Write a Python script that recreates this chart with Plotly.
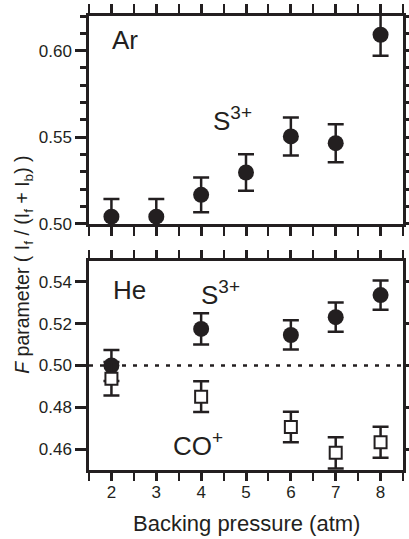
import plotly.graph_objects as go

INK = "#231f20"
FONT = "Liberation Sans, Arial, Helvetica, sans-serif"

# ---- data ----
pressure_ar = [2, 3, 4, 5, 6, 7, 8]
ar_s3 = [0.5042, 0.5042, 0.5168, 0.5297, 0.5505, 0.5466, 0.6092]
ar_s3_err = [0.0102, 0.0102, 0.0100, 0.0105, 0.0110, 0.0110, 0.0121]

pressure_he = [2, 4, 6, 7, 8]
he_s3 = [0.5000, 0.5175, 0.5146, 0.5231, 0.5337]
he_s3_err = [0.0074, 0.0075, 0.0070, 0.0070, 0.0070]
he_co = [0.4937, 0.4851, 0.4706, 0.4582, 0.4633]
he_co_err = [0.0080, 0.0074, 0.0073, 0.0075, 0.0074]

x_range = [1.5, 8.5]
ar_range = [0.50, 0.62]
he_range = [0.45, 0.55]
reference_level = 0.50

fig = go.Figure()

eb = dict(type="data", thickness=2.5, width=8, color=INK)

fig.add_trace(go.Scatter(
    x=pressure_ar, y=ar_s3, mode="markers", xaxis="x", yaxis="y",
    marker=dict(symbol="circle", size=16, color=INK, line=dict(width=0)),
    error_y=dict(array=ar_s3_err, **eb), showlegend=False, cliponaxis=False))

fig.add_trace(go.Scatter(
    x=pressure_he, y=he_s3, mode="markers", xaxis="x2", yaxis="y2",
    marker=dict(symbol="circle", size=16, color=INK, line=dict(width=0)),
    error_y=dict(array=he_s3_err, **eb), showlegend=False, cliponaxis=False))

fig.add_trace(go.Scatter(
    x=pressure_he, y=he_co, mode="markers", xaxis="x2", yaxis="y2",
    marker=dict(symbol="square", size=12, color="white", line=dict(width=2, color=INK)),
    error_y=dict(array=he_co_err, **eb), showlegend=False, cliponaxis=False))

# dummy traces so the right-hand tick axes exist
fig.add_trace(go.Scatter(x=[], y=[], xaxis="x", yaxis="y3", showlegend=False, hoverinfo="skip"))
fig.add_trace(go.Scatter(x=[], y=[], xaxis="x2", yaxis="y4", showlegend=False, hoverinfo="skip"))

tickfont = dict(family=FONT, size=17, color=INK)

xcommon = dict(range=x_range, tick0=2, dtick=1, ticks="outside", tickwidth=2.5,
               tickcolor=INK, showline=True, linewidth=2.5, linecolor=INK, mirror="allticks",
               showgrid=False, zeroline=False,
               minor=dict(tick0=2.5, dtick=1, ticks="outside", ticklen=3, tickwidth=2, tickcolor=INK))

top_dom = [0.5419, 1.0]
bot_dom = [0.0, 0.4604]

fig.update_layout(
    width=409, height=539,
    margin=dict(l=89, r=6, t=16, b=69, autoexpand=False),
    paper_bgcolor="white", plot_bgcolor="white",
    font=dict(family=FONT, color=INK),
    xaxis=dict(domain=[0, 1], anchor="y", showticklabels=False, ticklen=9, **xcommon),
    xaxis2=dict(domain=[0, 1], anchor="y2", showticklabels=True, tickfont=tickfont, ticklen=8,
                ticklabelstandoff=-3, **xcommon),
    yaxis=dict(domain=top_dom, anchor="x", range=ar_range, tick0=0.5, dtick=0.05, tickformat=".2f",
               ticks="outside", ticklen=11, tickwidth=2.5, tickcolor=INK, tickfont=tickfont,
               showline=True, linewidth=2.5, linecolor=INK, mirror=True,
               showgrid=False, zeroline=False,
               minor=dict(tick0=0.5, dtick=0.01, ticks="outside", ticklen=6, tickwidth=2.5, tickcolor=INK)),
    yaxis3=dict(overlaying="y", side="right", anchor="x", range=ar_range, tick0=0.5, dtick=0.01,
                ticks="outside", ticklen=6, tickwidth=2.5, tickcolor=INK, showticklabels=False,
                showline=False, showgrid=False, zeroline=False),
    yaxis2=dict(domain=bot_dom, anchor="x2", range=he_range, tick0=0.46, dtick=0.02, tickformat=".2f",
                ticks="outside", ticklen=11, tickwidth=2.5, tickcolor=INK, tickfont=tickfont,
                showline=True, linewidth=2.5, linecolor=INK, mirror=True,
                showgrid=False, zeroline=False),
    yaxis4=dict(overlaying="y2", side="right", anchor="x2", range=he_range, tick0=0.46, dtick=0.02,
                ticks="outside", ticklen=6, tickwidth=2.5, tickcolor=INK, showticklabels=False,
                showline=False, showgrid=False, zeroline=False),
)

fig.add_shape(type="line", xref="x2 domain", yref="y2", x0=0, x1=1,
              y0=reference_level, y1=reference_level,
              line=dict(color=INK, width=2.5, dash="4px,7px"), layer="below")

lab = dict(family=FONT, size=26, color=INK)
SUP = "<sup><span style='font-size:19px'>{}</span></sup>"
fig.add_annotation(text="Ar", xref="x", yref="y", x=1.97, y=0.606, xanchor="left", yanchor="middle",
                   showarrow=False, font=lab)
fig.add_annotation(text="S" + SUP.format("3+"), xref="x", yref="y", x=4.22, y=0.5605, xanchor="left",
                   yanchor="middle", showarrow=False, font=lab)
fig.add_annotation(text="He", xref="x2", yref="y2", x=2.0, y=0.5362, xanchor="left", yanchor="middle",
                   showarrow=False, font=lab)
fig.add_annotation(text="S" + SUP.format("3+"), xref="x2", yref="y2", x=3.96, y=0.5345, xanchor="left",
                   yanchor="middle", showarrow=False, font=lab)
fig.add_annotation(text="CO" + SUP.format("+"), xref="x2", yref="y2", x=3.33, y=0.4625, xanchor="left",
                   yanchor="middle", showarrow=False, font=lab)

fig.add_annotation(text="Backing pressure (atm)", xref="paper", yref="paper", x=0.502, y=-0.118,
                   xanchor="center", yanchor="middle", showarrow=False,
                   font=dict(family=FONT, size=22, color=INK))
fig.add_annotation(text="<i>F</i> parameter ( I<sub>f</sub> / (I<sub>f</sub> + I<sub>b</sub>) )",
                   xref="paper", yref="paper", x=-0.207, y=0.452, xanchor="center", yanchor="middle",
                   textangle=-90, showarrow=False, font=dict(family=FONT, size=19.5, color=INK))

fig.write_html("out.html", config={"displayModeBar": False},
               post_script="document.body.style.margin='0';document.body.style.overflow='hidden';")
